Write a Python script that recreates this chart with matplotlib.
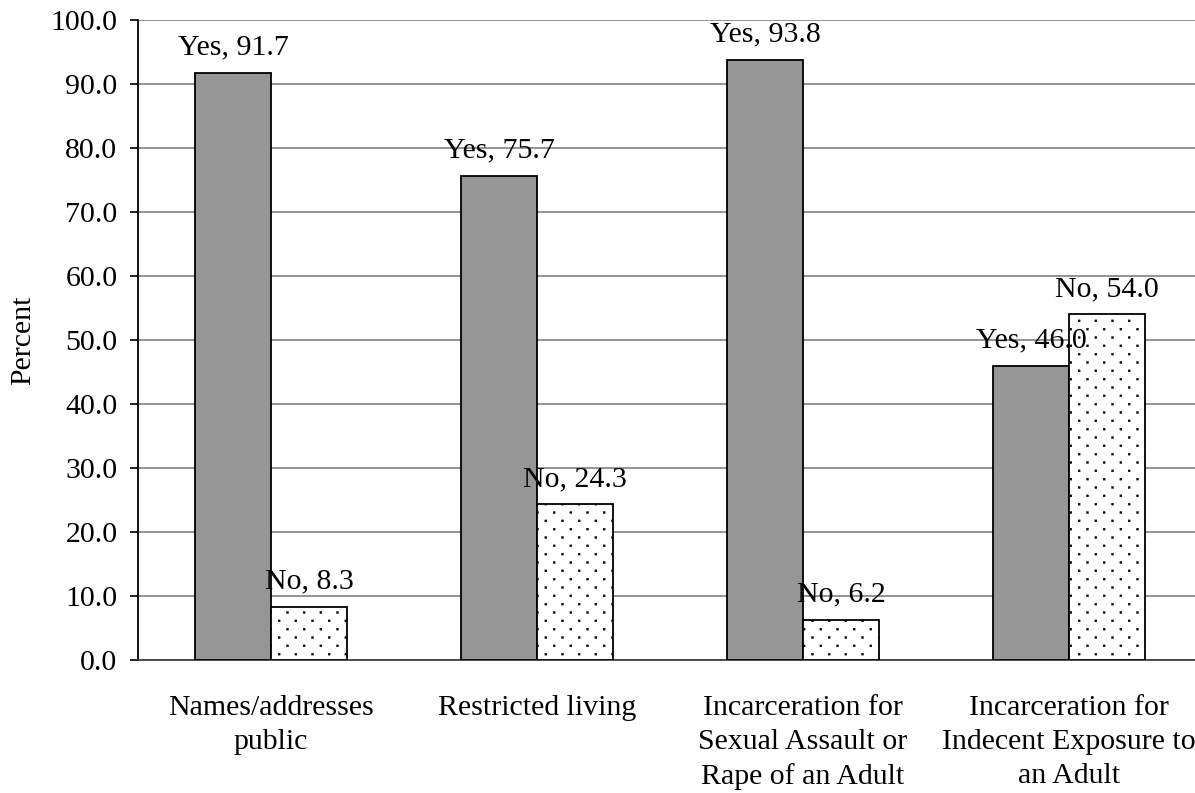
import matplotlib
matplotlib.use("Agg")
import matplotlib.pyplot as plt
import matplotlib.hatch as mhatch
from matplotlib.path import Path
import numpy as np

categories = [
    "Names/addresses\npublic",
    "Restricted living",
    "Incarceration for\nSexual Assault or\nRape of an Adult",
    "Incarceration for\nIndecent Exposure to\nan Adult",
]
yes_values = [91.7, 75.7, 93.8, 46.0]
no_values = [8.3, 24.3, 6.2, 54.0]
y_ticks = [0, 10, 20, 30, 40, 50, 60, 70, 80, 90, 100]


class SquareDots(mhatch.HatchPatternBase):
    """Staggered grid of small square dots used for the '.' hatch."""
    cols = 6
    rows = 12
    size = 0.019

    def __init__(self, hatch, density):
        self.active = hatch.count('.') > 0
        self.num_vertices = self.cols * self.rows * 5 if self.active else 0

    def set_vertices_and_codes(self, vertices, codes):
        h = self.size / 2
        square = np.array([[-h, -h], [h, -h], [h, h], [-h, h], [-h, -h]])
        sq_codes = [Path.MOVETO, Path.LINETO, Path.LINETO, Path.LINETO, Path.CLOSEPOLY]
        vparts, cparts = [], []
        for r in range(self.rows):
            y = (r + 0.5) / self.rows
            shift = 0.5 if r % 2 else 0.0
            for c in range(self.cols):
                x = (c + 0.25 + shift) / self.cols
                vparts.append(square + [x, y])
                cparts.append(sq_codes)
        vertices[:] = np.concatenate(vparts)
        codes[:] = np.concatenate(cparts)


mhatch._hatch_types = [t for t in mhatch._hatch_types
                       if t is not mhatch.SmallFilledCircles] + [SquareDots]

plt.rcParams["font.family"] = ["Liberation Serif", "DejaVu Serif"]
plt.rcParams["hatch.linewidth"] = 0.3

FS = 21.5

fig = plt.figure(figsize=(11.95, 7.93), dpi=100)
ax = fig.add_axes([138 / 1195, 1 - 660 / 793, 1064 / 1195, 640 / 793])

x = np.arange(len(categories))
w = 0.286

yes_bars = ax.bar(x - w / 2, yes_values, w, color="#969696", edgecolor="black", linewidth=1.3, zorder=3)
no_bars = ax.bar(x + w / 2, no_values, w, color="white", edgecolor="black", linewidth=1.3,
                 hatch=".", zorder=3)

for bar, v in zip(yes_bars, yes_values):
    ax.annotate(f"Yes, {v:.1f}", (bar.get_x() + bar.get_width() / 2, v), xytext=(0, 9),
                textcoords="offset points", ha="center", va="bottom", fontsize=FS, zorder=5)
for bar, v in zip(no_bars, no_values):
    ax.annotate(f"No, {v:.1f}", (bar.get_x() + bar.get_width() / 2, v), xytext=(0, 9),
                textcoords="offset points", ha="center", va="bottom", fontsize=FS, zorder=5)

ax.set_xlim(-0.5, len(categories) - 0.5)
ax.set_ylim(0, 100)
ax.set_yticks(y_ticks)
ax.set_yticklabels([f"{t:.1f}" for t in y_ticks], fontsize=FS)
ax.set_xticks(x)
ax.set_xticklabels(categories, fontsize=FS, linespacing=1.4)
ax.tick_params(axis="x", length=0, pad=25)
ax.tick_params(axis="y", length=5.8, width=1.2, direction="out", pad=9)
ax.yaxis.grid(True, color="#808080", linewidth=1.2, zorder=0)
ax.set_axisbelow(True)
for s in ["top", "right"]:
    ax.spines[s].set_visible(False)
ax.spines["left"].set_linewidth(1.3)
ax.spines["bottom"].set_linewidth(1.3)
ax.spines["bottom"].set_color("#404040")

ax.set_ylabel("Percent", fontsize=FS, labelpad=10)

fig.savefig("out.png", dpi=100)
